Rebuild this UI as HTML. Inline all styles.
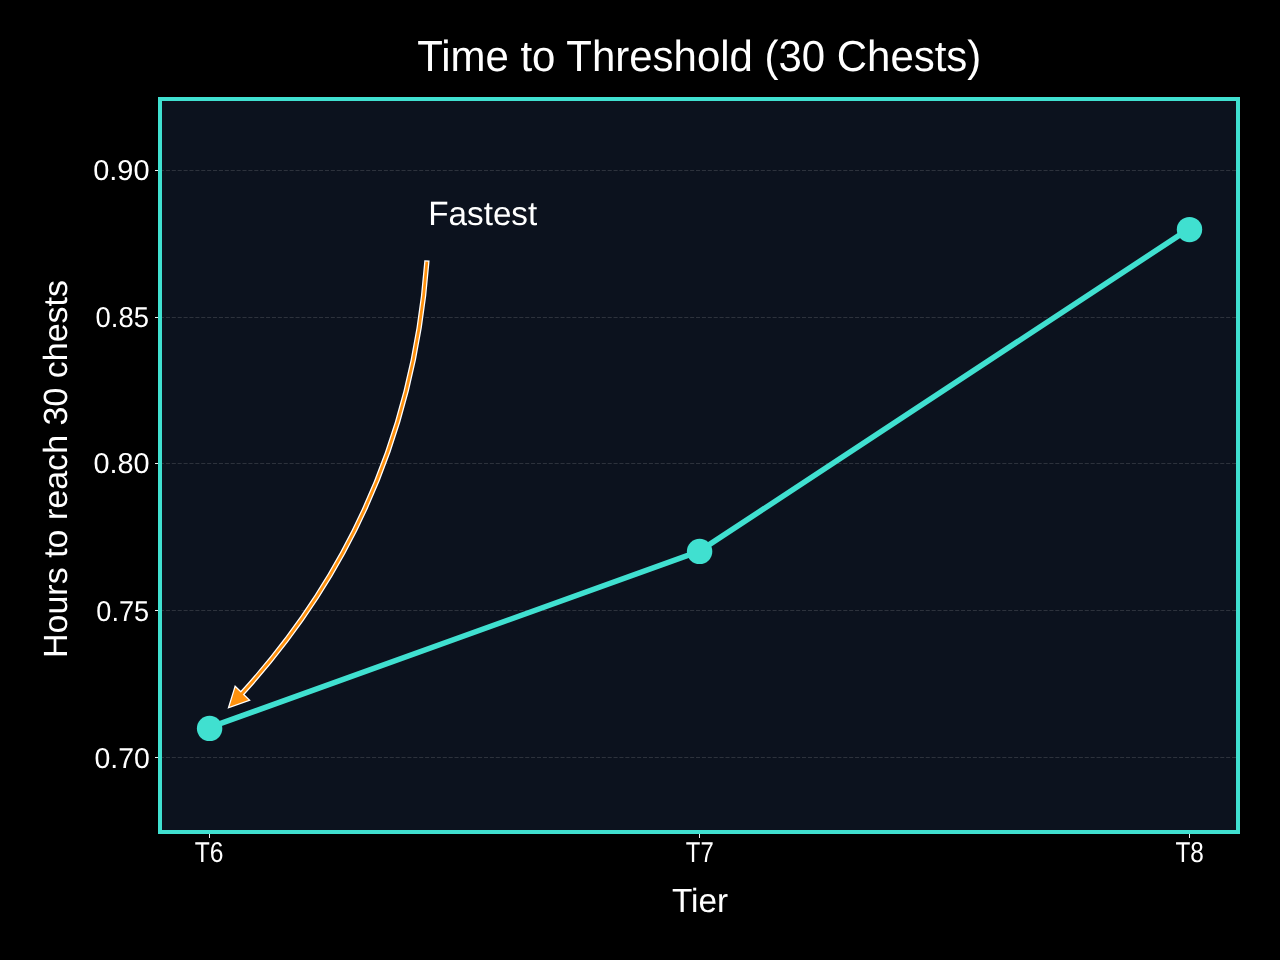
<!DOCTYPE html>
<html lang="en">
<head>
<meta charset="utf-8">
<title>Time to Threshold (30 Chests)</title>
<style>
html,body{margin:0;padding:0;background:#000000;}
body{width:1280px;height:960px;overflow:hidden;}
svg{display:block;}
text{font-family:"Liberation Sans",sans-serif;fill:#ffffff;text-rendering:geometricPrecision;}
</style>
</head>
<body>
<svg role="img" aria-label="Time to Threshold (30 Chests)" width="1280" height="960" viewBox="0 0 1280 960">
<rect x="0" y="0" width="1280" height="960" fill="#000000"/>
<rect x="160" y="99" width="1078" height="733" fill="#0c121e"/>
<line x1="160" y1="170.5" x2="1238" y2="170.5" stroke="#2d323c" stroke-width="1" stroke-dasharray="4.11 1.78"/>
<line x1="160" y1="317.5" x2="1238" y2="317.5" stroke="#2d323c" stroke-width="1" stroke-dasharray="4.11 1.78"/>
<line x1="160" y1="463.5" x2="1238" y2="463.5" stroke="#2d323c" stroke-width="1" stroke-dasharray="4.11 1.78"/>
<line x1="160" y1="610.5" x2="1238" y2="610.5" stroke="#2d323c" stroke-width="1" stroke-dasharray="4.11 1.78"/>
<line x1="160" y1="757.5" x2="1238" y2="757.5" stroke="#2d323c" stroke-width="1" stroke-dasharray="4.11 1.78"/>
<line x1="155" y1="170.5" x2="160" y2="170.5" stroke="#f2f2f2" stroke-width="1"/>
<line x1="155" y1="317.5" x2="160" y2="317.5" stroke="#f2f2f2" stroke-width="1"/>
<line x1="155" y1="463.5" x2="160" y2="463.5" stroke="#f2f2f2" stroke-width="1"/>
<line x1="155" y1="610.5" x2="160" y2="610.5" stroke="#f2f2f2" stroke-width="1"/>
<line x1="155" y1="757.5" x2="160" y2="757.5" stroke="#f2f2f2" stroke-width="1"/>
<line x1="209.5" y1="832" x2="209.5" y2="838" stroke="#f2f2f2" stroke-width="1"/>
<line x1="699.5" y1="832" x2="699.5" y2="838" stroke="#f2f2f2" stroke-width="1"/>
<line x1="1189.5" y1="832" x2="1189.5" y2="838" stroke="#f2f2f2" stroke-width="1"/>
<polyline points="209,727.7 699,551.43 1189,228.85" fill="none" stroke="#40e0d0" stroke-width="5.56" stroke-linejoin="round" stroke-linecap="butt"/>
<circle cx="209.6" cy="728.4" r="12.7" fill="#40e0d0"/>
<circle cx="699.6" cy="551.4" r="12.7" fill="#40e0d0"/>
<circle cx="1189.5" cy="229.6" r="12.7" fill="#40e0d0"/>
<rect x="160" y="99" width="1078" height="733" fill="none" stroke="#40e0d0" stroke-width="4"/>
<path d="M426.74,263.00 Q408.01,511.48 240.92,694.63" fill="none" stroke="#ffffff" stroke-width="5.3" stroke-linecap="square"/>
<path d="M236.09,689.99 L231.60,704.52 L245.91,699.40 Z" fill="#ffffff" stroke="#ffffff" stroke-width="5.3" stroke-linejoin="miter" stroke-miterlimit="10"/>
<path d="M426.74,263.00 Q408.01,511.48 240.92,694.63" fill="none" stroke="#ff910d" stroke-width="2.78" stroke-linecap="square"/>
<path d="M236.09,689.99 L231.60,704.52 L245.91,699.40 Z" fill="#ff910d" stroke="#ff910d" stroke-width="2.78" stroke-linejoin="miter" stroke-miterlimit="10"/>
<text x="417.17" y="71" font-size="43.45" text-anchor="start" textLength="564.17" lengthAdjust="spacingAndGlyphs">Time to Threshold (30 Chests)</text>
<text x="428.29" y="225" font-size="33.7" text-anchor="start" textLength="108.92" lengthAdjust="spacingAndGlyphs">Fastest</text>
<text x="671.89" y="912" font-size="33.5" text-anchor="start" textLength="56.16" lengthAdjust="spacingAndGlyphs">Tier</text>
<text x="93.22" y="180" font-size="28.7" text-anchor="start" textLength="56.35" lengthAdjust="spacingAndGlyphs">0.90</text>
<text x="95.55" y="327" font-size="28.7" text-anchor="start" textLength="53.36" lengthAdjust="spacingAndGlyphs">0.85</text>
<text x="93.46" y="473" font-size="28.7" text-anchor="start" textLength="56.17" lengthAdjust="spacingAndGlyphs">0.80</text>
<text x="96.36" y="621" font-size="28.7" text-anchor="start" textLength="52.81" lengthAdjust="spacingAndGlyphs">0.75</text>
<text x="94.49" y="768" font-size="28.7" text-anchor="start" textLength="55.37" lengthAdjust="spacingAndGlyphs">0.70</text>
<text x="194.81" y="862" font-size="28.7" text-anchor="start" textLength="28.73" lengthAdjust="spacingAndGlyphs">T6</text>
<text x="685.81" y="862" font-size="28.7" text-anchor="start" textLength="27.9" lengthAdjust="spacingAndGlyphs">T7</text>
<text x="1175.51" y="862" font-size="28.7" text-anchor="start" textLength="28.37" lengthAdjust="spacingAndGlyphs">T8</text>
<g transform="translate(67.0,658.03) rotate(-90)"><text x="0" y="0" font-size="33.5" text-anchor="start" textLength="378.12" lengthAdjust="spacingAndGlyphs">Hours to reach 30 chests</text></g>
</svg>
</body>
</html>
